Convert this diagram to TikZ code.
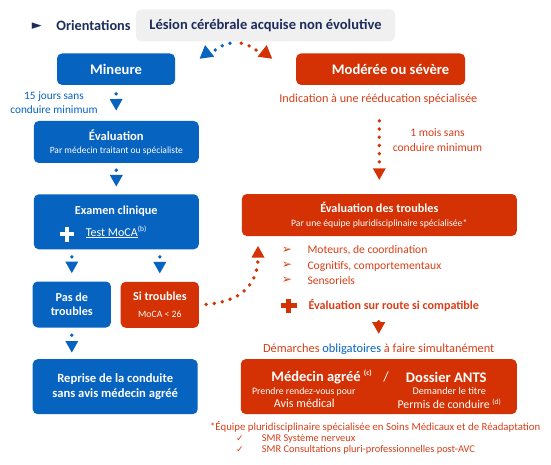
\documentclass[tikz,border=0pt]{standalone}
\usepackage{fontspec}
\setmainfont{Carlito}
\newfontfamily\symfont{DejaVu Sans}
\usetikzlibrary{arrows.meta,shapes.geometric}
\definecolor{cblue}{RGB}{6,99,192}
\definecolor{cred}{RGB}{212,50,4}
\definecolor{ctxt}{RGB}{216,62,24}
\definecolor{cnavy}{RGB}{30,44,92}
\definecolor{cgray}{RGB}{240,240,240}
\newcommand\fz[2]{\fontsize{#1}{#2}\selectfont}
\begin{document}
\begin{tikzpicture}[x=1pt,y=-1pt,
  box/.style={rounded corners=5pt, text=white, align=center, inner sep=0pt},
  bbox/.style={box, fill=cblue},
  rbox/.style={box, fill=cred},
  lbl/.style={inner sep=0pt, align=center},
  dotline/.style={line width=3.8pt, line cap=round, dash pattern=on 0pt off 8.2pt},
  dotarrow/.style={dotline, -{Triangle[width=13pt,length=11.5pt,line width=0pt]}},
  tri/.style={regular polygon, regular polygon sides=3, inner sep=0pt, minimum size=17pt}
]
\useasboundingbox (0,0) rectangle (551,465);

% header
\node[lbl, text=cnavy, font=\symfont\fz{13}{14}] (play) at (36.8,26) {►};
\node[lbl, text=cnavy, font=\bfseries\fz{14.3}{17}] (orient) at (93.5,26) {Orientations};
\node[box, fill=cgray, text=cnavy, font=\bfseries\fz{14.5}{17}, minimum width=259pt, minimum height=32pt] (lesion) at (265.5,25.5) {Lésion cérébrale acquise non évolutive};

% top arc
\coordinate (apexL) at (230,43.3);
\coordinate (endL) at (214.5,50.5);
\coordinate (apexR) at (241.3,43.3);
\coordinate (endR) at (256.8,50.5);
\draw[dotline, cblue] (apexL) to[bend right=12] (endL);
\draw[dotline, cred] (apexR) to[bend left=12] (endR);
\node[tri, fill=cblue, rotate=8] (triL) at (206.3,53.5) {};
\node[tri, fill=cred, rotate=-8] (triR) at (265.5,53.5) {};

% main boxes
\node[bbox, minimum width=118pt, minimum height=31.5pt, font=\bfseries\fz{14.6}{17}] (mineure) at (116,69.2) {Mineure};
\node[rbox, minimum width=169pt, minimum height=31.5pt, font=\bfseries\fz{14.6}{17}] (modere) at (380.6,69.2) {\hspace{20pt}Modérée ou sévère};

\node[lbl, text=cblue, font=\fz{11.3}{14}] (quinze) at (54,103) {15 jours sans\\conduire minimum};
\node[lbl, text=ctxt, font=\fz{12.2}{14}] (indic) at (378.3,99.5) {Indication à une rééducation spécialisée};
\node[lbl, text=ctxt, font=\fz{11.6}{15}] (unmois) at (437.5,140.5) {1 mois sans\\conduire minimum};

\node[bbox, minimum width=165pt, minimum height=42pt, font=\fz{12.6}{13}] (evalm) at (116.3,142) {\textbf{Évaluation}\\\fz{9.5}{13}Par médecin traitant ou spécialiste};

\node[bbox, minimum width=165pt, minimum height=55pt, font=\fz{12.2}{22}] (examen) at (116.3,221.8) {\textbf{Examen clinique}\\\fz{12}{22}\underline{Test MoCA}\textsuperscript{\fz{7.5}{8}(b)}};
\draw[white, line width=4.3pt] (59.5,234.2) -- (74,234.2) (66.7,226.8) -- (66.7,241.6);

\node[bbox, minimum width=78.3pt, minimum height=46pt, font=\bfseries\fz{12.2}{14}] (pas) at (71.8,304.5) {Pas de\\troubles};
\node[rbox, minimum width=78.3pt, minimum height=46pt, font=\fz{12.2}{16.5}] (si) at (159.8,304.8) {\textbf{Si troubles}\\\fz{9.7}{16.5}MoCA < 26};

\node[bbox, minimum width=165pt, minimum height=55pt, font=\bfseries\fz{12.6}{15}] (reprise) at (115.2,386.7) {Reprise de la conduite\\sans avis médecin agréé};

\node[rbox, minimum width=275pt, minimum height=42pt, font=\fz{12.2}{13.5}] (evaltr) at (379.3,215) {\textbf{Évaluation des troubles}\\\fz{9.7}{13.5}Par une équipe pluridisciplinaire spécialisée*};

% list
\node[lbl, text=ctxt, font=\symfont\fz{12}{13}] (b1) at (286.9,250) {➢};
\node[lbl, text=ctxt, font=\symfont\fz{12}{13}] (b2) at (286.9,265.7) {➢};
\node[lbl, text=ctxt, font=\symfont\fz{12}{13}] (b3) at (286.9,280.7) {➢};
\node[lbl, anchor=west, text=ctxt, font=\fz{11.6}{14}] (l1) at (307.3,250.5) {Moteurs, de coordination};
\node[lbl, anchor=west, text=ctxt, font=\fz{11.6}{14}] (l2) at (307.3,266) {Cognitifs, comportementaux};
\node[lbl, anchor=west, text=ctxt, font=\fz{11.6}{14}] (l3) at (307.3,281) {Sensoriels};
\draw[cred, line width=5pt] (280.7,305.8) -- (296.7,305.8) (288.7,299) -- (288.7,312.7);
\node[lbl, anchor=west, text=ctxt, font=\bfseries\fz{12.1}{14}] (route) at (308.3,305.5) {Évaluation sur route si compatible};

\node[lbl, text=ctxt, font=\fz{12.4}{14}] (demarches) at (378.7,349.3) {Démarches \textcolor{cblue}{obligatoires} à faire simultanément};

\node[rbox, minimum width=276pt, minimum height=55pt] (final) at (378.8,386.6) {};
\node[lbl, text=white, font=\bfseries\fz{14.5}{16}] (medecin) at (321.8,377) {Médecin agréé \textsuperscript{\fz{7.5}{8}(c)}};
\node[lbl, text=white, font=\fz{14}{16}] (slash) at (386,377) {/};
\node[lbl, text=white, font=\bfseries\fz{14.6}{16}] (ants) at (446.3,377) {Dossier ANTS};
\node[lbl, text=white, font=\fz{9.8}{12}] (prendre) at (303.8,391.7) {Prendre rendez-vous pour};
\node[lbl, text=white, font=\fz{10.2}{12}] (demander) at (449.2,391) {Demander le titre};
\node[lbl, text=white, font=\fz{12.1}{14}] (avis) at (304.3,403.5) {Avis médical};
\node[lbl, text=white, font=\fz{11.8}{14}] (permis) at (449.5,403.5) {Permis de conduire \textsuperscript{\fz{7.5}{8}(d)}};

% footnote
\node[lbl, text=ctxt, font=\fz{10.8}{12}] (foot) at (375.2,427.3) {*Équipe pluridisciplinaire spécialisée en Soins Médicaux et de Réadaptation};
\node[lbl, text=ctxt, font=\symfont\fz{9}{10}] (c1) at (240,438.3) {✓};
\node[lbl, text=ctxt, font=\symfont\fz{9}{10}] (c2) at (240,449.3) {✓};
\node[lbl, anchor=west, text=ctxt, font=\fz{10.4}{12}] (smr1) at (261.7,438.5) {SMR Système nerveux};
\node[lbl, anchor=west, text=ctxt, font=\fz{10.4}{12}] (smr2) at (261.7,449.5) {SMR Consultations pluri-professionnelles post-AVC};

% connectors
\draw[dotarrow, cblue, shorten <=8.7pt, shorten >=10.3pt] (mineure.south) -- (evalm.north);
\draw[dotarrow, cblue, shorten <=7pt, shorten >=7.6pt] (evalm.south) -- (examen.north);
\draw[dotarrow, cblue, shorten <=7.4pt, shorten >=8.2pt] (examen.south -| pas.north) -- (pas.north);
\draw[dotarrow, cblue, shorten <=7.4pt, shorten >=8.2pt] (examen.south -| si.north) -- (si.north);
\draw[dotarrow, cblue, shorten <=7.5pt, shorten >=6.5pt] (pas.south) -- (pas.south |- reprise.north);
\draw[dotarrow, cred, shorten <=35.7pt, shorten >=14pt] (modere.south -| evaltr.north) -- (evaltr.north);
\coordinate (evaltrin) at (258,236);
\draw[dotarrow, cred, shorten <=7pt, shorten >=10pt] (si.east) .. controls (240,302) and (258,285) .. (evaltrin);
\draw[dotarrow, cred, shorten <=10pt, shorten >=10pt] (route.south -| demarches.north) -- (demarches.north);
\end{tikzpicture}
\end{document}
